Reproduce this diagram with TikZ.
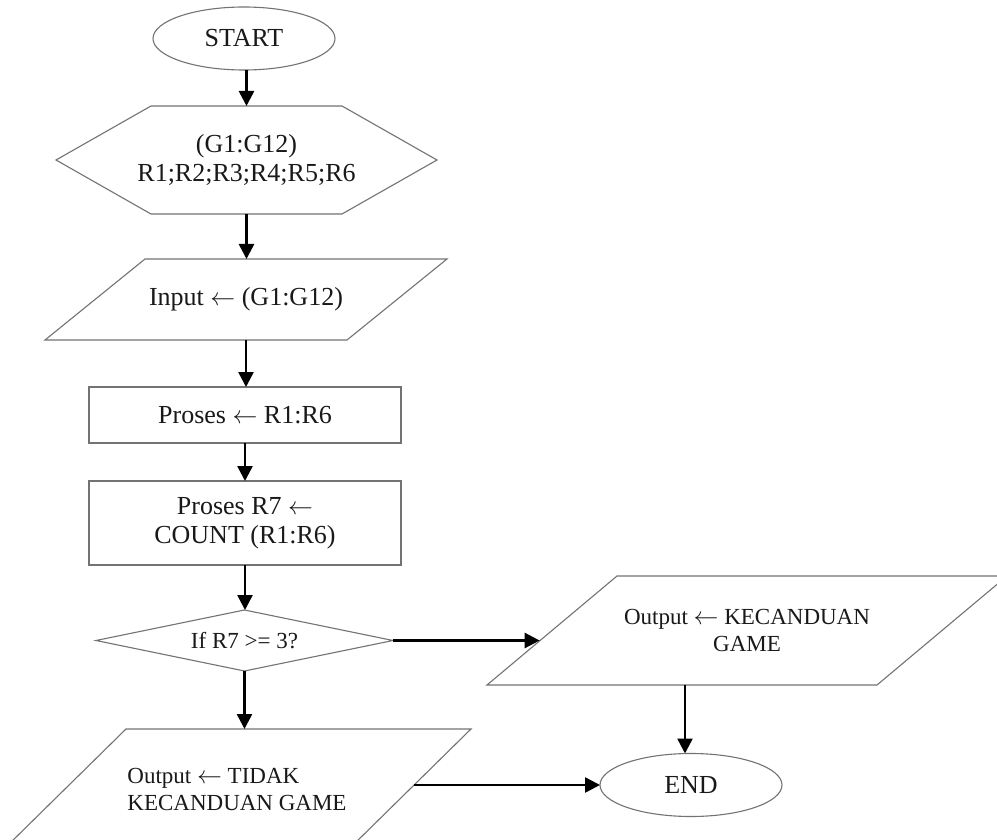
\documentclass[tikz,border=0pt]{standalone}
\usepackage{fontspec}
\setmainfont{Liberation Serif}
\usetikzlibrary{arrows.meta,calc,shapes.geometric}
\newcommand{\larr}{\ensuremath{\leftarrow}}
\begin{document}
\begin{tikzpicture}[x=1pt,y=-1pt,
  outline/.style={draw=black!55, line width=1.1pt},
  box/.style={inner sep=0pt, outer sep=0pt, align=center},
  conn/.style={line width=2.6pt, -{Triangle[length=15pt,width=15pt]}},
  big/.style={font=\fontsize{26}{29}\selectfont, text=black!90},
  small/.style={font=\fontsize{23}{27}\selectfont, text=black!90},
]
\useasboundingbox (0,0) rectangle (997,840);
\fill[white] (0,0) rectangle (997,840);

% START
\node[ellipse, outline, box, big, minimum width=182pt, minimum height=63pt] (start) at (244,38.5) {START};

% hexagon
\node[box, big, minimum width=381pt, minimum height=108pt] (hex) at (246.5,160) {(G1:G12)\\R1;R2;R3;R4;R5;R6};
\draw[outline] (hex.west) -- ($(hex.north west)+(95,0)$) -- ($(hex.north east)+(-95,0)$)
  -- (hex.east) -- ($(hex.south east)+(-95,0)$) -- ($(hex.south west)+(95,0)$) -- cycle;

% input parallelogram
\node[box, big, minimum width=402pt, minimum height=81pt] (inp) at (246,299.5) {Input \larr{} (G1:G12)};
\draw[outline] ($(inp.north west)+(100,0)$) -- (inp.north east) -- ($(inp.south east)+(-100,0)$)
  -- (inp.south west) -- cycle;

% process boxes
\node[rectangle, outline, box, big, minimum width=312pt, minimum height=56pt] (pr1) at (245,415) {Proses \larr{} R1:R6};
\node[rectangle, outline, box, big, minimum width=312pt, minimum height=84pt] (pr2) at (245,523) {Proses R7 \larr\\COUNT (R1:R6)};

% decision
\node[box, small, minimum width=297pt, minimum height=61pt] (dec) at (244.5,640.5) {If R7 >= 3?};
\draw[outline] (dec.west) -- (dec.north) -- (dec.east) -- (dec.south) -- cycle;

% output right
\node[box, small, minimum width=520pt, minimum height=109pt] (rp) at (747,630.5) {Output \larr{} KECANDUAN\\GAME};
\draw[outline] ($(rp.north west)+(130,0)$) -- (rp.north east) -- ($(rp.south east)+(-130,0)$)
  -- (rp.south west) -- cycle;
\coordinate (rpTL) at ($(rp.north west)+(130,0)$);
\coordinate (rpIn) at ($(rp.south west)!0.405!(rpTL)$);

% output bottom left
\node[box, small, align=left, minimum width=468pt, minimum height=121pt] (bl) at (237,789.5) {Output \larr{} TIDAK\\KECANDUAN GAME};
\draw[outline] ($(bl.north west)+(123,0)$) -- (bl.north east) -- ($(bl.south east)+(-123,0)$)
  -- (bl.south west) -- cycle;
\coordinate (blBR) at ($(bl.south east)+(-123,0)$);
\coordinate (blOut) at ($(bl.north east)!0.465!(blBR)$);

% END
\node[ellipse, outline, box, big, minimum width=182pt, minimum height=63pt] (end) at (691,785) {END};
\coordinate (endIn) at ($(end.north)+(-6,0)$);

% connectors
\draw[conn] (start.south -| hex.north) -- (hex.north);
\draw[conn] (hex.south) -- (hex.south |- inp.north);
\draw[conn] (inp.south) -- (inp.south |- pr1.north);
\draw[conn] (pr1.south) -- (pr2.north);
\draw[conn] (pr2.south) -- (pr2.south |- dec.north);
\draw[conn] (dec.south) -- (dec.south |- bl.north);
\draw[conn] (dec.east) -- (dec.east -| rpIn);
\draw[conn] (endIn |- rp.south) -- (endIn);
\draw[conn] (end.west -| blOut) -- (end.west);
\end{tikzpicture}
\end{document}
